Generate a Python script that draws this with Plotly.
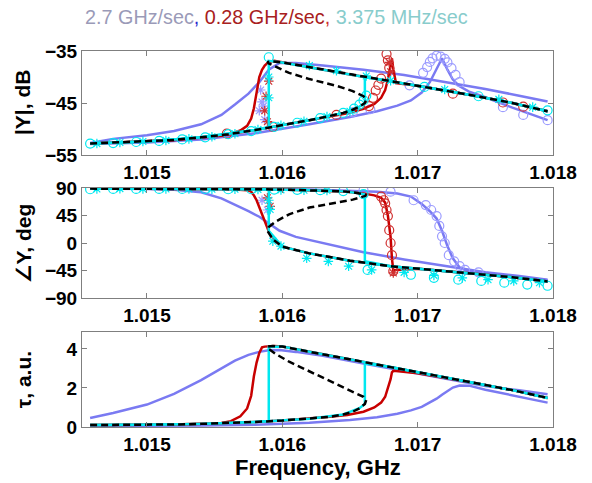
import plotly.graph_objects as go

# ---------------- data (frequency in GHz) ----------------
# steady-state solution (black dashed): lower branch -> unstable branch -> upper branch
ss_f = [1.01458, 1.01480, 1.01500, 1.01520, 1.01540, 1.01560, 1.01580, 1.01600, 1.01620, 1.01635,
        1.01645, 1.01652, 1.01657, 1.01661, 1.01662,
        1.01660, 1.01652, 1.01640, 1.01620, 1.01605, 1.01595, 1.01590, 1.01589,
        1.01593, 1.01600, 1.01620, 1.01650, 1.01680, 1.01710, 1.01740, 1.01770, 1.01796]
ss_db = [-52.8, -52.6, -52.4, -52.1, -51.6, -51.0, -50.2, -49.3, -48.3, -47.5,
         -46.9, -46.3, -45.7, -45.0, -44.3,
         -43.7, -42.7, -41.7, -40.4, -39.2, -38.0, -37.4, -37.1,
         -37.0, -37.2, -38.1, -39.5, -40.8, -42.1, -43.5, -45.0, -46.6]
ss_ph = [89, 89, 89, 88.5, 88.5, 88, 88, 87.5, 86.5, 85.5,
         84.5, 83, 81.5, 79.5, 77.5,
         76, 71, 66, 58, 47, 35, 26, 20,
         6, -6, -17, -29, -38, -44, -50, -56, -63]
ss_tau = [0.10, 0.10, 0.11, 0.13, 0.16, 0.20, 0.26, 0.33, 0.42, 0.52,
          0.64, 0.78, 0.96, 1.18, 1.38,
          1.55, 1.80, 2.20, 2.85, 3.35, 3.75, 4.00, 4.12,
          4.15, 4.12, 3.85, 3.46, 3.07, 2.68, 2.28, 1.89, 1.49]

# 3.375 MHz/sec (cyan) forward sweep
cyf_f = [1.01458, 1.01500, 1.01540, 1.01580, 1.01620, 1.01645, 1.01657, 1.01661, 1.01661,
         1.01680, 1.01710, 1.01740, 1.01770, 1.01796]
cyf_db = [-52.8, -52.4, -51.6, -50.2, -48.3, -46.9, -45.7, -45.0, -40.0,
          -40.8, -42.1, -43.5, -45.0, -46.6]
cyf_ph = [89, 89, 88.5, 88, 86.5, 84.5, 81.5, 79.5, -30,
          -38, -44, -50, -56, -63]
cyf_tau = [0.10, 0.11, 0.16, 0.26, 0.42, 0.64, 0.96, 1.18, 3.25,
           3.07, 2.68, 2.28, 1.89, 1.49]
# 3.375 MHz/sec (cyan) backward sweep
cyb_f = [1.01796, 1.01770, 1.01740, 1.01710, 1.01680, 1.01650, 1.01620, 1.01600, 1.01590, 1.01590,
         1.01580, 1.01540, 1.01500, 1.01458]
cyb_db = [-46.6, -45.0, -43.5, -42.1, -40.8, -39.5, -38.1, -37.2, -36.9, -49.6,
          -50.2, -51.6, -52.4, -52.8]
cyb_ph = [-63, -56, -50, -44, -38, -29, -17, -6, 20, 87.5,
          88, 88.5, 89, 89]
cyb_tau = [1.49, 1.89, 2.28, 2.68, 3.07, 3.46, 3.85, 4.12, 4.10, 0.30,
           0.26, 0.16, 0.11, 0.10]

# 0.28 GHz/sec (red) backward sweep
rdb_f = [1.01796, 1.01770, 1.01740, 1.01710, 1.01680, 1.01650, 1.01620, 1.01600, 1.01594, 1.01590,
         1.01587, 1.01585, 1.01583, 1.01581, 1.01579, 1.01577, 1.01574, 1.01569, 1.01562, 1.01555,
         1.01540, 1.01520, 1.01480, 1.01458]
rdb_db = [-46.6, -45.0, -43.5, -42.1, -40.8, -39.5, -38.1, -37.2, -36.9, -37.1,
          -37.8, -38.6, -40.0, -43.0, -46.0, -48.0, -49.4, -50.3, -50.9, -51.3,
          -51.6, -52.1, -52.6, -52.8]
rdb_ph = [-63, -56, -50, -44, -38, -29, -17, -6, 5, 19,
          36, 48, 60, 70, 78, 84, 86.5, 87.5, 88, 88,
          88.5, 88.5, 89, 89]
rdb_tau = [1.49, 1.89, 2.28, 2.68, 3.07, 3.46, 3.85, 4.12, 4.15, 4.14,
           4.12, 4.08, 3.80, 3.30, 2.60, 1.60, 0.95, 0.55, 0.30, 0.20,
           0.16, 0.13, 0.10, 0.10]
# 0.28 GHz/sec (red) forward sweep
rdf_f = [1.01458, 1.01480, 1.01500, 1.01520, 1.01540, 1.01560, 1.01580, 1.01600, 1.01620, 1.01635,
         1.01648, 1.01660, 1.01668, 1.01673, 1.01676, 1.01678, 1.01680, 1.01681, 1.01682, 1.01684,
         1.01700, 1.01740, 1.01770, 1.01796]
rdf_db = [-52.8, -52.6, -52.4, -52.1, -51.6, -51.0, -50.2, -49.3, -48.3, -47.6,
          -47.0, -46.1, -45.2, -44.0, -42.5, -40.5, -37.8, -36.4, -38.5, -41.2,
          -41.7, -43.5, -45.0, -46.6]
rdf_ph = [89, 89, 89, 88.5, 88.5, 88, 88, 87.5, 86.5, 85.5,
          84, 81, 78, 74, 66, 45, 10, -25, -45, -44,
          -42, -50, -56, -63]
rdf_tau = [0.10, 0.10, 0.11, 0.13, 0.16, 0.20, 0.26, 0.33, 0.42, 0.52,
           0.62, 0.78, 1.00, 1.25, 1.55, 1.95, 2.45, 2.80, 2.88, 2.87,
           2.75, 2.28, 1.89, 1.49]

# 2.7 GHz/sec (blue) backward sweep
blb_f = [1.01458, 1.01475, 1.01500, 1.01520, 1.01540, 1.01555, 1.01565, 1.01575, 1.01583, 1.01590,
         1.01598, 1.01610, 1.01630, 1.01660, 1.01690, 1.01720, 1.01750, 1.01775, 1.01796]
blb_db = [-52.7, -51.9, -51.2, -50.4, -49.1, -47.3, -45.3, -43.2, -41.0, -38.6,
          -37.3, -37.3, -37.8, -38.6, -39.6, -40.9, -42.3, -43.6, -44.7]
blb_ph = [89, 88.8, 88.5, 87, 83, 73, 63, 52, 43, 32,
          20, 10, 0, -15, -27, -38, -48, -54, -60]
blb_tau = [0.46, 0.72, 1.15, 1.70, 2.40, 3.00, 3.40, 3.70, 3.85, 3.93,
           3.95, 3.85, 3.65, 3.25, 2.87, 2.48, 2.10, 1.88, 1.68]
# 2.7 GHz/sec (blue) forward sweep
blf_f = [1.01458, 1.01500, 1.01540, 1.01580, 1.01620, 1.01650, 1.01670, 1.01685, 1.01695, 1.01703,
         1.01709, 1.01714, 1.01718, 1.01722, 1.01726, 1.01731, 1.01738, 1.01750, 1.01770, 1.01796]
blf_db = [-52.9, -52.6, -52.0, -50.8, -49.1, -47.7, -46.6, -45.5, -44.5, -43.0,
          -41.0, -38.5, -36.4, -38.6, -40.5, -41.8, -42.8, -43.9, -45.9, -48.3]
blf_ph = [89, 89, 88.8, 88.5, 87.5, 86, 84, 81, 76, 64,
          52, 40, 20, -5, -25, -40, -47, -50, -55, -61]
blf_tau = [0.05, 0.06, 0.08, 0.12, 0.22, 0.36, 0.50, 0.68, 0.85, 1.03,
           1.25, 1.45, 1.65, 1.85, 2.02, 2.13, 2.12, 1.91, 1.63, 1.25]

# marker data, |Y| panel
cyo_db_f = [1.01458, 1.01475, 1.01492, 1.01509, 1.01526, 1.01543, 1.01560, 1.01577, 1.01594, 1.01611,
            1.01628, 1.01645, 1.01653, 1.01657, 1.01660, 1.01662, 1.01590, 1.01705, 1.01745, 1.01796]
cyo_db_v = [-52.8, -52.7, -52.5, -52.3, -52.0, -51.6, -51.0, -50.4, -49.6, -48.8,
            -47.9, -46.9, -46.1, -45.3, -44.5, -43.6, -36.2, -41.9, -43.7, -46.4]
cys_db_f = [1.01463, 1.01480, 1.01497, 1.01514, 1.01531, 1.01548, 1.01565, 1.01582, 1.01599, 1.01616,
            1.01633, 1.01650, 1.01590, 1.01590, 1.01620, 1.01640, 1.01662, 1.01680, 1.01720, 1.01760, 1.01785]
cys_db_v = [-52.8, -52.6, -52.4, -52.2, -51.9, -51.5, -50.9, -50.1, -49.3, -48.5,
            -47.6, -46.6, -40.0, -44.0, -37.8, -38.8, -39.8, -40.7, -42.4, -44.3, -45.8]
rdo_db_f = [1.01559, 1.01593, 1.01640, 1.01664, 1.01667, 1.01669, 1.01671, 1.01673, 1.01677, 1.01678,
            1.01679, 1.01726, 1.01763, 1.01778]
rdo_db_v = [-50.9, -49.6, -47.3, -45.6, -44.0, -42.6, -41.5, -40.3, -35.6, -36.8,
            -38.2, -43.2, -44.9, -45.7]
rds_db_f = [1.01590, 1.01588, 1.01587, 1.01589, 1.01679, 1.01680]
rds_db_v = [-40.8, -43.7, -46.5, -48.6, -37.2, -39.0]
blo_db_f = [1.01652, 1.01665, 1.01694, 1.01704, 1.01707, 1.01709, 1.01711, 1.01714, 1.01717, 1.01720,
            1.01722, 1.01725, 1.01728, 1.01731, 1.01763, 1.01778, 1.01796]
blo_db_v = [-46.8, -46.2, -41.6, -39.2, -38.1, -37.1, -36.4, -35.9, -36.1, -36.5,
            -37.2, -38.3, -39.6, -41.0, -45.8, -47.3, -48.3]
bls_db_f = [1.01584, 1.01585, 1.01583, 1.01587, 1.01586]
bls_db_v = [-42.5, -44.8, -46.5, -48.2, -45.6]

# marker data, phase panel
cyo_ph_f = [1.01458, 1.01475, 1.01492, 1.01509, 1.01526, 1.01543, 1.01560, 1.01577, 1.01594, 1.01611,
            1.01628, 1.01645, 1.01660, 1.01663, 1.01695, 1.01712, 1.01730, 1.01747, 1.01764, 1.01781, 1.01796]
cyo_ph_v = [88, 88.5, 88.5, 88.5, 88.5, 88.5, 88, 88, 87.5, 87,
            86.5, 85, 80, -44, -52, -57, -60, -62, -65, -68, -70]
cys_ph_f = [1.01463, 1.01480, 1.01497, 1.01514, 1.01531, 1.01548, 1.01565, 1.01582, 1.01599, 1.01616,
            1.01633, 1.01593, 1.01599, 1.01618, 1.01634, 1.01649, 1.01666, 1.01690, 1.01712, 1.01733,
            1.01752, 1.01771, 1.01790, 1.01590, 1.01591]
cys_ph_v = [88.5, 89, 88.5, 88.5, 88.5, 88, 88, 87.5, 87, 86.5,
            86, 3, -5, -25, -30, -38, -44, -48, -53, -57,
            -60, -62, -65, 70, 55]
rdo_ph_f = [1.01673, 1.01675, 1.01676, 1.01677, 1.01678, 1.01679, 1.01680, 1.01681, 1.01682]
rdo_ph_v = [76, 70, 65, 54, 44, 21, 0, -20, -46]
rds_ph_f = [1.01589, 1.01591, 1.01682]
rds_ph_v = [74, 60, -49]
blo_ph_f = [1.01660, 1.01680, 1.01697, 1.01706, 1.01710, 1.01714, 1.01716, 1.01718, 1.01720, 1.01723,
            1.01727, 1.01731, 1.01735, 1.01745]
blo_ph_v = [86, 84, 70, 62, 54, 44, 28, 11, 0, -20, -30, -38, -44, -48]
bls_ph_f = [1.01585, 1.01589]
bls_ph_v = [70, 54]

x_ticks = [1.015, 1.016, 1.017, 1.018]
x_ticktext = ["1.015", "1.016", "1.017", "1.018"]
db_ticks = [-55, -45, -35]
ph_ticks = [-90, -45, 0, 45, 90]
tau_ticks = [0, 2, 4]

# ---------------- styles ----------------
C_BLUE = "#7a7af2"
C_BLUE_M = "#9c9cff"
C_RED = "#c80000"
C_RED_M = "#d03030"
C_CYAN = "#00e8f0"
C_BLACK = "#000000"
LW = 2.5

fig = go.Figure()


def add_line(f, v, color, ax, dash=None, width=LW):
    fig.add_trace(go.Scatter(x=f, y=v, mode="lines",
                             line=dict(color=color, width=width, dash=dash),
                             xaxis=ax[0], yaxis=ax[1], showlegend=False, hoverinfo="skip"))


def add_marks(f, v, color, ax, symbol, size):
    fig.add_trace(go.Scatter(x=f, y=v, mode="markers",
                             marker=dict(symbol=symbol, size=size, color=color,
                                         line=dict(color=color, width=1.2)),
                             xaxis=ax[0], yaxis=ax[1], showlegend=False, hoverinfo="skip"))


AX1, AX2, AX3 = ("x", "y"), ("x2", "y2"), ("x3", "y3")

panels = [
    (AX1, blb_db, blf_db, rdb_db, rdf_db, cyb_db, cyf_db, ss_db),
    (AX2, blb_ph, blf_ph, rdb_ph, rdf_ph, cyb_ph, cyf_ph, ss_ph),
    (AX3, blb_tau, blf_tau, rdb_tau, rdf_tau, cyb_tau, cyf_tau, ss_tau),
]
markers = {
    AX1: [(blo_db_f, blo_db_v, C_BLUE_M, "circle-open", 9), (bls_db_f, bls_db_v, C_BLUE_M, "asterisk-open", 8),
          (rdo_db_f, rdo_db_v, C_RED_M, "circle-open", 9), (rds_db_f, rds_db_v, C_RED_M, "asterisk-open", 8),
          (cyo_db_f, cyo_db_v, C_CYAN, "circle-open", 9), (cys_db_f, cys_db_v, C_CYAN, "asterisk-open", 8)],
    AX2: [(blo_ph_f, blo_ph_v, C_BLUE_M, "circle-open", 9), (bls_ph_f, bls_ph_v, C_BLUE_M, "asterisk-open", 8),
          (rdo_ph_f, rdo_ph_v, C_RED_M, "circle-open", 9), (rds_ph_f, rds_ph_v, C_RED_M, "asterisk-open", 8),
          (cyo_ph_f, cyo_ph_v, C_CYAN, "circle-open", 9), (cys_ph_f, cys_ph_v, C_CYAN, "asterisk-open", 8)],
    AX3: [],
}

for ax, bb, bf, rb, rf, cb, cf, ss in panels:
    add_line(blb_f, bb, C_BLUE, ax)
    add_line(blf_f, bf, C_BLUE, ax)
    for m in markers[ax][:2]:
        add_marks(m[0], m[1], m[2], ax, m[3], m[4])
    add_line(rdb_f, rb, C_RED, ax)
    add_line(rdf_f, rf, C_RED, ax)
    for m in markers[ax][2:4]:
        add_marks(m[0], m[1], m[2], ax, m[3], m[4])
    add_line(cyb_f, cb, C_CYAN, ax)
    add_line(cyf_f, cf, C_CYAN, ax)
    for m in markers[ax][4:]:
        add_marks(m[0], m[1], m[2], ax, m[3], m[4])
    add_line(ss_f, ss, C_BLACK, ax, dash="7px,4px", width=2.5)

TICKFONT = dict(family="Arial, Liberation Sans, sans-serif", size=19, color="black", weight="bold")
GRAY = "#7f7f7f"


def xax(anchor):
    return dict(anchor=anchor, domain=[0, 1], range=[1.01452, 1.018], tickvals=x_ticks, ticktext=x_ticktext,
                ticks="inside", ticklen=5, tickcolor=GRAY, showline=True, linecolor=GRAY, linewidth=1,
                mirror="ticks", showgrid=False, zeroline=False, tickfont=TICKFONT)


def yax(anchor, dom, rng, tv):
    return dict(anchor=anchor, domain=dom, range=rng, tickvals=tv,
                ticks="inside", ticklen=5, tickcolor=GRAY, showline=True, linecolor=GRAY, linewidth=1,
                mirror="ticks", showgrid=False, zeroline=False, tickfont=TICKFONT)


title_txt = ('<span style="color:#9a9ab8">2.7 GHz/sec</span><span style="color:#2a2ad0">,</span> '
             '<span style="color:#a82020">0.28 GHz/sec</span><span style="color:#d03030">,</span> '
             '<span style="color:#88cccc">3.375 MHz/sec</span>')

LABFONT = dict(family="Arial, Liberation Sans, DejaVu Sans, sans-serif", size=21, color="black", weight="bold")

fig.update_layout(
    width=592, height=483,
    margin=dict(l=82, r=39, t=51, b=56),
    paper_bgcolor="white", plot_bgcolor="white",
    showlegend=False,
    xaxis=xax("y"), xaxis2=xax("y2"), xaxis3=xax("y3"),
    yaxis=yax("x", [0.7234, 1.0], [-55, -35], db_ticks),
    yaxis2=yax("x2", [0.3431, 0.6356], [-90, 90], ph_ticks),
    yaxis3=yax("x3", [0.0, 0.2527], [0, 4.87], tau_ticks),
    annotations=[
        dict(text=title_txt, xref="paper", yref="paper", x=0.414, y=1.090, showarrow=False,
             xanchor="center", yanchor="middle",
             font=dict(family="Arial, Liberation Sans, sans-serif", size=19.8)),
        dict(text="|Y|, dB", xref="paper", yref="paper", x=-0.125, y=0.862, showarrow=False,
             textangle=-90, xanchor="center", yanchor="middle", font=LABFONT),
        dict(text="\u2220Y, deg", xref="paper", yref="paper", x=-0.125, y=0.489, showarrow=False,
             textangle=-90, xanchor="center", yanchor="middle", font=LABFONT),
        dict(text="\u03c4, a.u.", xref="paper", yref="paper", x=-0.125, y=0.125, showarrow=False,
             textangle=-90, xanchor="center", yanchor="middle", font=LABFONT),
        dict(text="Frequency, GHz", xref="paper", yref="paper", x=0.501, y=-0.109, showarrow=False,
             xanchor="center", yanchor="middle",
             font=dict(family="Arial, Liberation Sans, sans-serif", size=22, color="black", weight="bold")),
    ],
)

fig.write_html("out.html")
